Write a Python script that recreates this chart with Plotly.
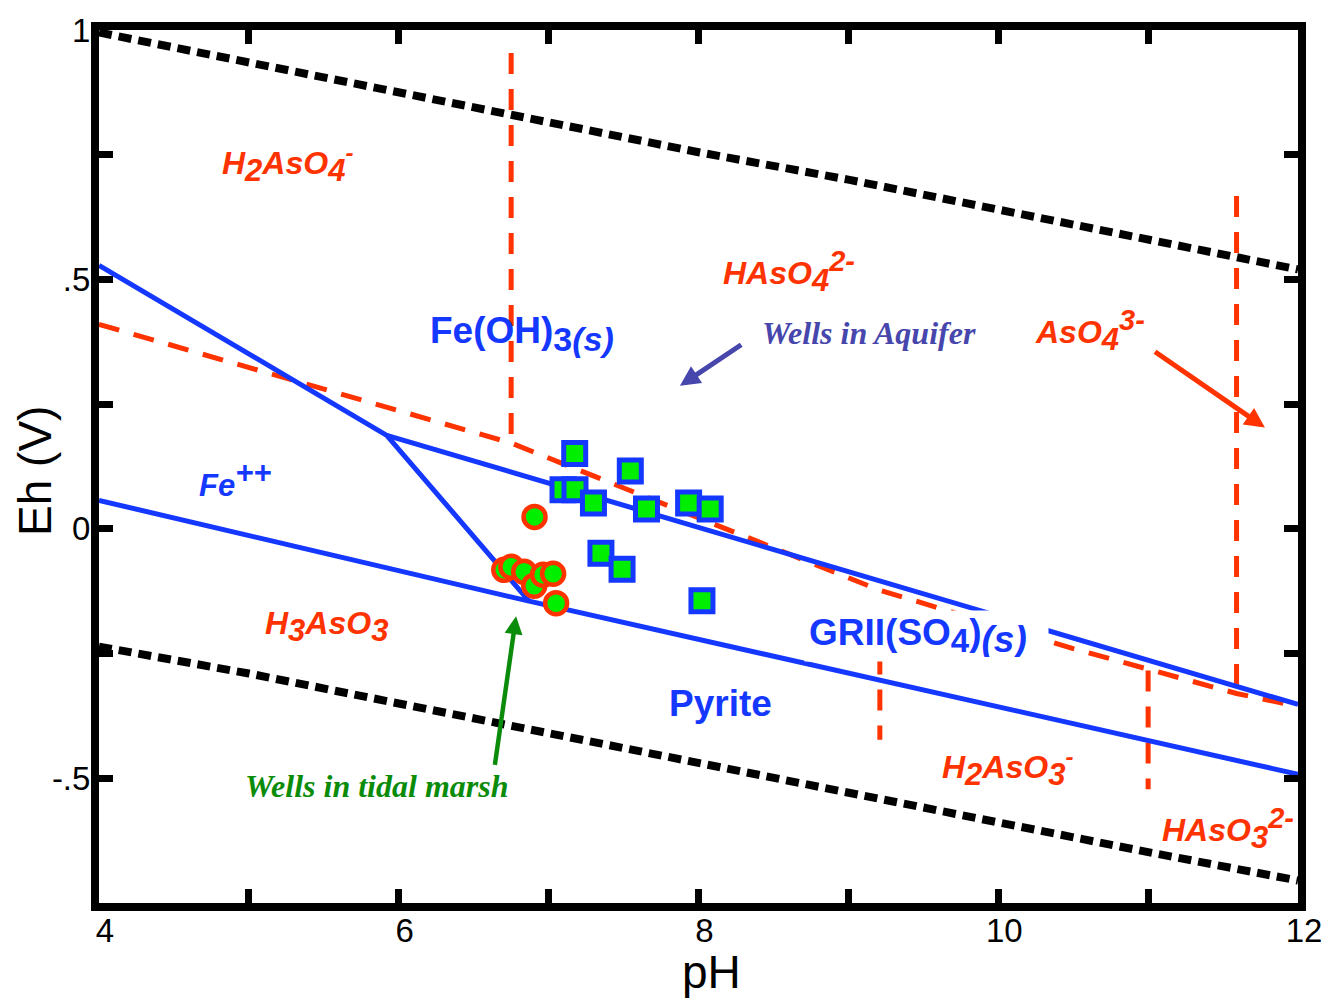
import plotly.graph_objects as go

# ---- axes ---------------------------------------------------------------
x_ticks = [4, 5, 6, 7, 8, 9, 10, 11, 12]
x_tick_text = ["4", "", "6", "", "8", "", "10", "", "12"]
y_ticks = [-0.75, -0.5, -0.25, 0.0, 0.25, 0.5, 0.75, 1.0]
y_tick_text = ["", "-.5", "", "0", "", ".5", "", "1"]

# ---- water stability limits (black dotted) -----------------------------
ph_o2 = [4, 5, 6, 7, 8, 9, 10, 11, 12]
eh_o2 = [0.995, 0.935, 0.873, 0.815, 0.755, 0.700, 0.640, 0.580, 0.520]
ph_h2 = [4, 5, 6, 7, 8, 9, 10, 11, 12]
eh_h2 = [-0.236, -0.290, -0.350, -0.410, -0.470, -0.530, -0.590, -0.648, -0.705]

# ---- arsenic boundaries (red dashed) -----------------------------------
ph_as_redox = [4.0, 6.75, 9.2, 10.5, 11.59, 12.0]
eh_as_redox = [0.410, 0.172, -0.122, -0.240, -0.330, -0.356]
as_vert_ph = [6.75, 11.59, 9.21, 11.0]
as_vert_top = [0.954, 0.667, -0.250, -0.284]
as_vert_bot = [0.172, -0.315, -0.423, -0.522]

# ---- iron boundaries (blue solid) --------------------------------------
ph_fe_left = [4.0, 5.92, 6.87]
eh_fe_left = [0.528, 0.1875, -0.145]
ph_fe_oxide = [5.92, 12.0]
eh_fe_oxide = [0.1875, -0.352]
ph_fe_lower = [4.0, 6.87, 12.0]
eh_fe_lower = [0.057, -0.145, -0.492]

# ---- measured wells -----------------------------------------------------
aquifer_ph = [7.174, 7.545, 7.096, 7.176, 7.299, 7.653, 7.934, 8.078, 7.349, 7.490, 8.023]
aquifer_eh = [0.151, 0.116, 0.0785, 0.0785, 0.052, 0.040, 0.052, 0.040, -0.049, -0.081, -0.144]
marsh_ph = [6.906, 6.704, 6.751, 6.837, 6.904, 6.963, 7.030, 7.050]
marsh_eh = [0.024, -0.082, -0.076, -0.086, -0.114, -0.092, -0.090, -0.149]

RED = "#ff3300"
BLUE = "#1438ff"
GREEN_FILL = "#00ee00"
SLATE = "#4646ac"
GREEN_TXT = "#0a8c0a"
SANS = "Liberation Sans, Arial, sans-serif"
SERIF = "Liberation Serif, Times New Roman, serif"


def sub(t, s=31):
    return f"<sub><span style='font-size:{s}px'>{t}</span></sub>"


def sup(t, s=29):
    return f"<sup><span style='font-size:{s}px'>{t}</span></sup>"


fig = go.Figure()


def line(x, y, color, width, dash="solid"):
    fig.add_trace(go.Scatter(x=x, y=y, mode="lines", hoverinfo="skip",
                             line=dict(color=color, width=width, dash=dash)))


line(ph_o2, eh_o2, "black", 8, "13px,7px")
line(ph_h2, eh_h2, "black", 8, "13px,7px")

line(ph_as_redox, eh_as_redox, RED, 5, "21px,15px")
for p, t, b in zip(as_vert_ph, as_vert_top, as_vert_bot):
    line([p, p], [t, b], RED, 5, "21px,15px")

line(ph_fe_left, eh_fe_left, BLUE, 5)
line(ph_fe_oxide, eh_fe_oxide, BLUE, 5)
line(ph_fe_lower, eh_fe_lower, BLUE, 5)

fig.add_trace(go.Scatter(x=marsh_ph, y=marsh_eh, mode="markers", hoverinfo="skip",
                         marker=dict(symbol="circle", size=22, color=GREEN_FILL,
                                     line=dict(color=RED, width=4.5))))
fig.add_trace(go.Scatter(x=aquifer_ph, y=aquifer_eh, mode="markers", hoverinfo="skip",
                         marker=dict(symbol="square", size=22, color=GREEN_FILL,
                                     line=dict(color=BLUE, width=5))))

red_font = dict(family=SANS, size=32, color=RED, weight="bold", style="italic")
labels_as = [
    (5.256, 0.732, f"H{sub('2')}AsO{sub('4')}{sup('-', 24)}"),
    (8.605, 0.516, f"HAsO{sub('4')}{sup('2-')}"),
    (10.611, 0.398, f"AsO{sub('4')}{sup('3-')}"),
    (5.515, -0.195, f"H{sub('3')}AsO{sub('3')}"),
    (10.06, -0.478, f"H{sub('2')}AsO{sub('3')}{sup('-', 24)}"),
    (11.535, -0.601, f"HAsO{sub('3')}{sup('2-')}"),
]
for x, y, t in labels_as:
    fig.add_annotation(x=x, y=y, text=t, showarrow=False, font=red_font,
                       xanchor="center", yanchor="middle")

blue_bold = dict(family=SANS, size=37, color=BLUE, weight="bold")
fig.add_annotation(x=6.824, y=0.390, text=f"Fe(OH){sub('3<i>(s)</i>', 34)}",
                   showarrow=False, font=blue_bold)
fig.add_annotation(x=4.910, y=0.100, text=f"Fe{sup('++', 31)}", showarrow=False,
                   font=dict(family=SANS, size=31, color=BLUE, weight="bold", style="italic"))
fig.add_annotation(x=9.518, y=-0.2148,
                   text=f"GRII(SO{sub('4', 33)}){sub('<i>(s)</i>', 37)}",
                   showarrow=False, font=blue_bold, bgcolor="white",
                   width=235, height=42, borderpad=4, align="left")
fig.add_annotation(x=8.146, y=-0.350, text="Pyrite", showarrow=False, font=blue_bold)

fig.add_annotation(x=9.136, y=0.392, text="Wells in Aquifer", showarrow=False,
                   font=dict(family=SERIF, size=32, color=SLATE, weight="bold", style="italic"))
fig.add_annotation(x=5.854, y=-0.516, text="Wells in tidal marsh", showarrow=False,
                   font=dict(family=SERIF, size=32, color=GREEN_TXT, weight="bold", style="italic"))

# pointer arrows (tip at x/y, tail at ax/ay)
arrows = [
    (7.876, 0.287, 8.295, 0.371, SLATE, 5),
    (11.779, 0.203, 11.036, 0.357, RED, 5),
    (6.783, -0.175, 6.640, -0.476, GREEN_TXT, 4.5),
]
for x, y, ax, ay, c, w in arrows:
    fig.add_annotation(x=x, y=y, ax=ax, ay=ay, xref="x", yref="y", axref="x", ayref="y",
                       text="", showarrow=True, arrowhead=2, arrowsize=0.8,
                       arrowwidth=w, arrowcolor=c, standoff=0)

# axis titles
fig.add_annotation(x=0.511, y=-0.079, xref="paper", yref="paper", text="pH",
                   xanchor="center", yanchor="middle",
                   showarrow=False, font=dict(family=SANS, size=46, color="black"))
fig.add_annotation(x=-0.0533, y=0.495, xref="paper", yref="paper", text="Eh (V)",
                   xanchor="center", yanchor="middle",
                   textangle=-90, showarrow=False, font=dict(family=SANS, size=46, color="black"))

axis_common = dict(showline=True, linewidth=8, linecolor="black", mirror="ticks",
                   ticks="inside", ticklen=14, tickwidth=7, tickcolor="black",
                   showgrid=False, zeroline=False,
                   tickfont=dict(family=SANS, size=33, color="black"))
fig.update_xaxes(range=[4, 12], tickvals=x_ticks, ticktext=x_tick_text,
                 ticklabelshift=6, ticklabelstandoff=-9, **axis_common)
fig.update_yaxes(range=[-0.75, 1.0], tickvals=y_ticks, ticktext=y_tick_text,
                 ticklabelstandoff=-6, **axis_common)

fig.update_layout(width=1334, height=1000, margin=dict(l=99, r=35, t=24, b=97),
                  paper_bgcolor="white", plot_bgcolor="white", showlegend=False,
                  hovermode=False)

fig.write_html("out.html")
